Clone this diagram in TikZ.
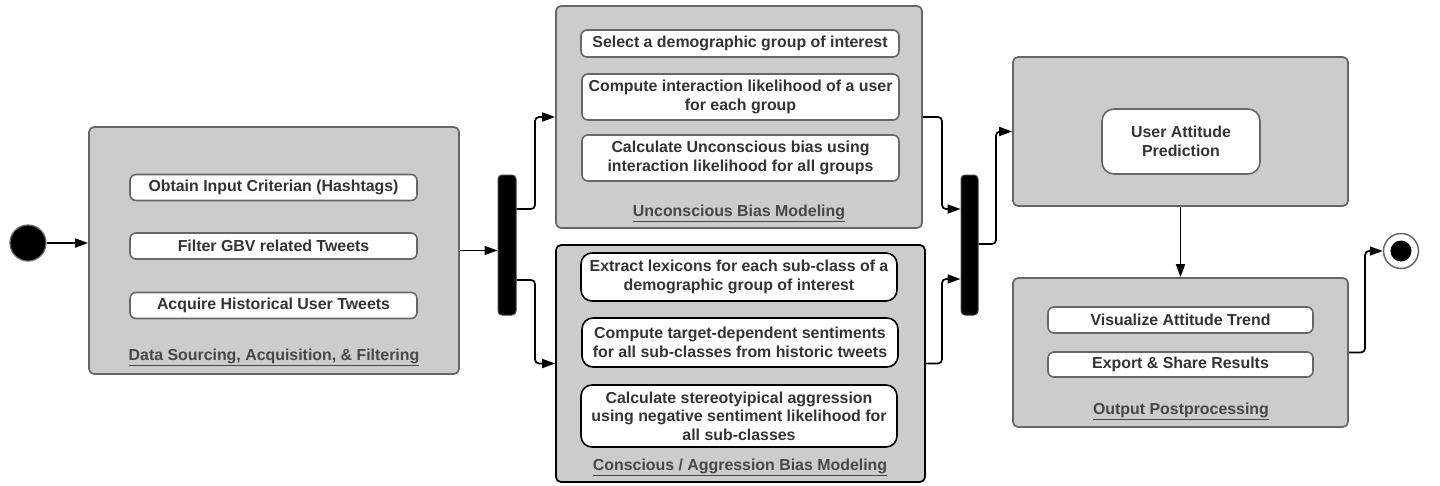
\documentclass[tikz,border=0pt]{standalone}
\usepackage{fontspec}
\setmainfont{Liberation Sans}
\usetikzlibrary{arrows.meta}
\definecolor{boxfill}{HTML}{CCCCCC}
\definecolor{boxline}{HTML}{676767}
\definecolor{txt}{HTML}{333333}
\begin{document}
\begin{tikzpicture}[x=1pt,y=-1pt,
  font=\bfseries\fontsize{15.9}{18.5}\selectfont,
  group/.style={draw=boxline, fill=boxfill, line width=1.7pt, rounded corners=5pt, inner sep=0pt},
  groupdark/.style={group, draw=black},
  act/.style={draw=boxline, fill=white, line width=1.6pt, rounded corners=6pt, inner sep=0pt, text=txt, align=center},
  actdark/.style={act, draw=black, rounded corners=11pt},
  lab/.style={text=txt!90!white, inner sep=0pt},
  bar/.style={fill=black, draw=black!75, line width=1pt, rounded corners=4pt, inner sep=0pt},
  arr/.style={line width=1.7pt, -{Triangle[length=13pt,width=9pt]}, rounded corners=4pt}
]
\useasboundingbox (0,0) rectangle (1440,485);

% start node
\node[circle, fill=black, draw=black!60, line width=1.2pt, minimum size=36pt, inner sep=0pt] (start) at (28,243) {};

% group 1
\node[group, minimum width=370pt, minimum height=247pt] (box1) at (274,250.5) {};
\node[act, minimum width=287pt, minimum height=26pt] (a1) at (273.5,187.5) {Obtain Input Criterian (Hashtags)};
\node[act, minimum width=287pt, minimum height=26pt] (a2) at (273.5,246) {Filter GBV related Tweets};
\node[act, minimum width=287pt, minimum height=26pt] (a3) at (273.5,305.5) {Acquire Historical User Tweets};
\node[lab] (l1) at (274,357) {\underline{Data Sourcing, Acquisition, \& Filtering}};

% fork bar 1
\node[bar, minimum width=18pt, minimum height=140pt] (bar1) at (507,245) {};

% group 2
\node[group, minimum width=366pt, minimum height=222pt] (box2) at (739,117) {};
\node[act, minimum width=318pt, minimum height=27pt] (b1) at (740,43.5) {Select a demographic group of interest};
\node[act, minimum width=317pt, minimum height=46pt] (b2) at (740.5,97) {Compute interaction likelihood of a user\\for each group};
\node[act, minimum width=317pt, minimum height=46pt] (b3) at (740.5,158) {Calculate Unconscious bias using\\interaction likelihood for all groups};
\node[lab] (l2) at (739,213) {\underline{Unconscious Bias Modeling}};

% group 3
\node[groupdark, minimum width=369pt, minimum height=237pt] (box3) at (740.5,363.5) {};
\node[actdark, minimum width=316pt, minimum height=48pt] (c1) at (739,277) {Extract lexicons for each sub-class of a\\demographic group of interest};
\node[actdark, minimum width=316pt, minimum height=49pt] (c2) at (740,342.5) {Compute target-dependent sentiments\\for all sub-classes from historic tweets};
\node[actdark, minimum width=316pt, minimum height=62pt] (c3) at (739,416) {Calculate stereotyipical aggression\\using negative sentiment likelihood for\\all sub-classes};
\node[lab] (l3) at (740,467) {\underline{Conscious / Aggression Bias Modeling}};

% join bar 2
\node[bar, minimum width=17pt, minimum height=140pt] (bar2) at (969.5,245) {};

% group 4
\node[group, minimum width=335pt, minimum height=149pt] (box4) at (1180.5,131.5) {};
\node[act, rounded corners=12pt, minimum width=158pt, minimum height=65pt] (d1) at (1181,141.5) {User Attitude\\Prediction};

% group 5
\node[group, minimum width=335pt, minimum height=149pt] (box5) at (1180.5,352.5) {};
\node[act, minimum width=265pt, minimum height=26pt] (e1) at (1180.5,320) {Visualize Attitude Trend};
\node[act, minimum width=265pt, minimum height=25pt] (e2) at (1180.5,364.5) {Export \& Share Results};
\node[lab] (l5) at (1181,411) {\underline{Output Postprocessing}};

% end node
\node[circle, fill=white, draw=boxline, line width=1.5pt, minimum size=35pt, inner sep=0pt] (end) at (1401,251) {};
\fill[black] (end.center) circle (10.5pt);

% connectors
\draw[arr] (start.east) -- (start.east -| box1.west);
\draw[arr] (box1.east) -- (box1.east -| bar1.west);
\coordinate (f1) at (535,209);
\coordinate (f2) at (535,280);
\draw[arr] (bar1.east |- f1) -- (f1) |- (box2.west);
\draw[arr] (bar1.east |- f2) -- (f2) |- (box3.west);
\coordinate (j1) at (942,209);
\coordinate (j2) at (942,279);
\draw[arr] (box2.east) -| (j1) -- (j1 -| bar2.west);
\draw[arr] (box3.east) -| (j2) -- (j2 -| bar2.west);
\coordinate (k1) at (996,244);
\draw[arr] (bar2.east |- k1) -- (k1) |- (box4.west);
\draw[arr] (box4.south) -- (box5.north);
\coordinate (m1) at (1365,352.5);
\draw[arr] (box5.east) -- (m1) |- (end.west);
\end{tikzpicture}
\end{document}
